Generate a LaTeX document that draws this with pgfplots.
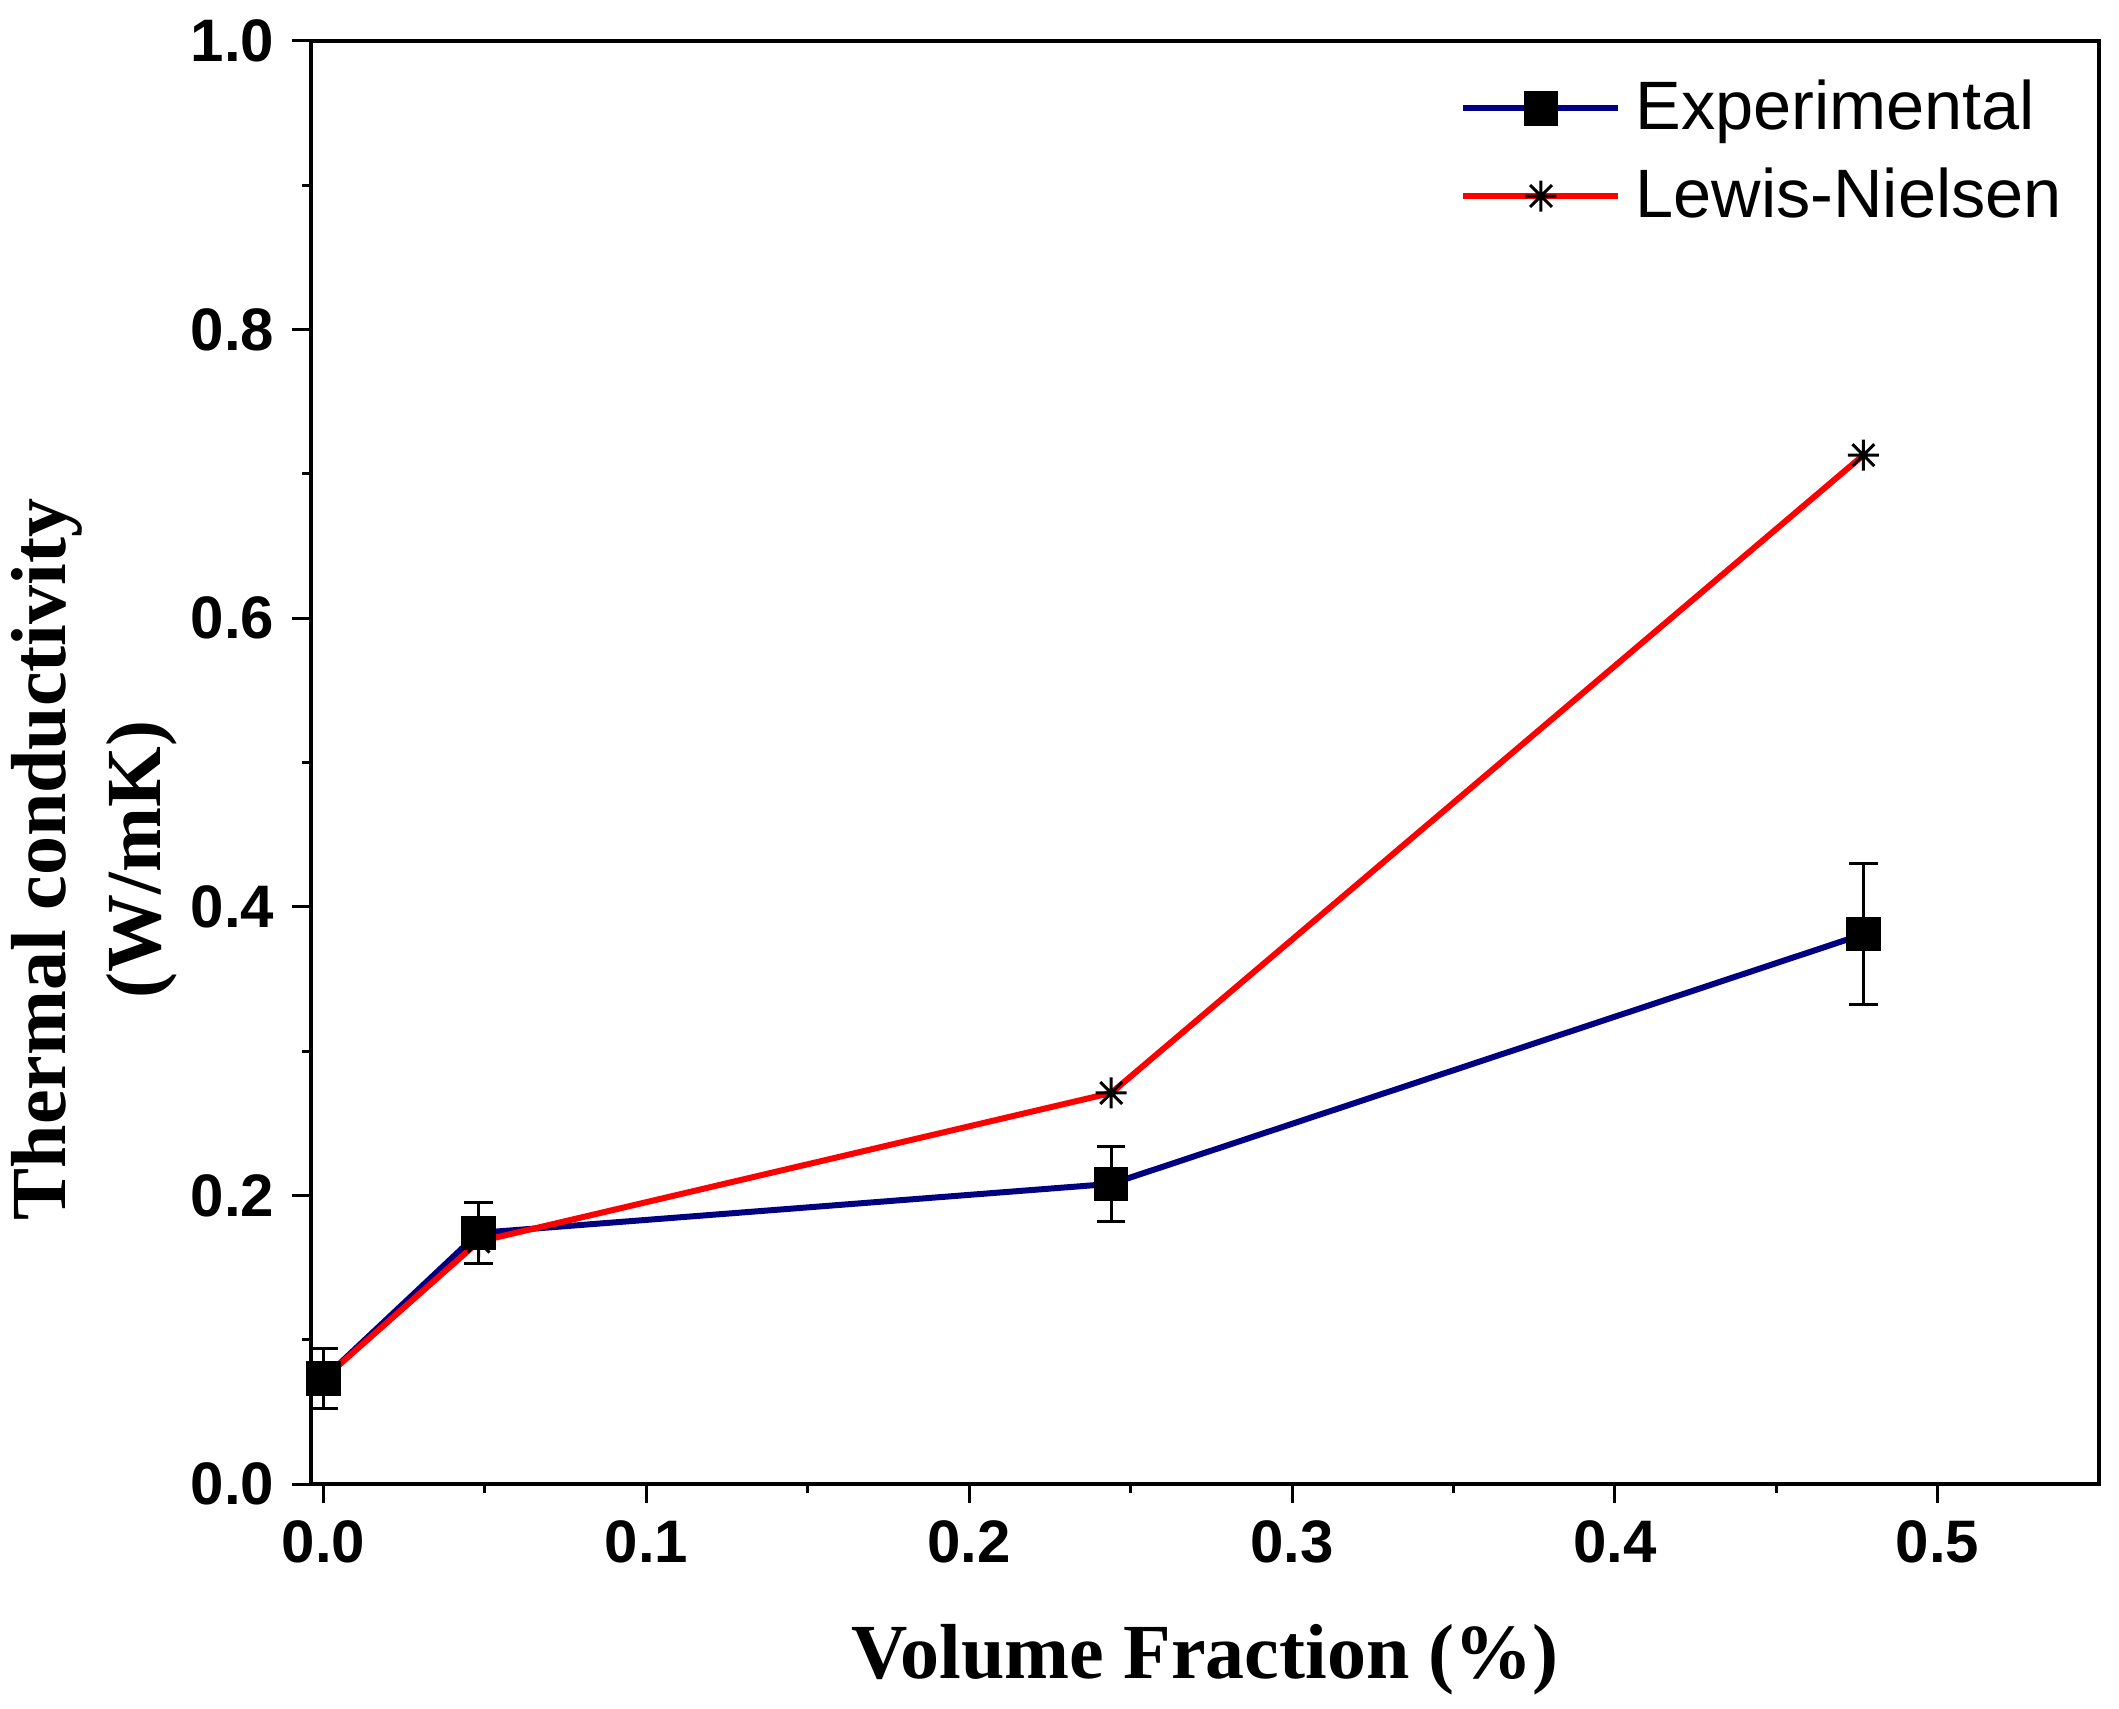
\documentclass[border=0pt]{standalone}
\usepackage{pgfplots}
\pgfplotsset{compat=1.18}
\usepackage{fontspec}
\setmainfont{Liberation Serif}
\newfontfamily\arial{Liberation Sans}
\definecolor{navyblue}{RGB}{0,0,128}
\pgfdeclareplotmark{star8}{%
  \pgfpathmoveto{\pgfqpoint{0pt}{\pgfplotmarksize}}%
  \pgfpathlineto{\pgfqpoint{0pt}{-\pgfplotmarksize}}%
  \pgfpathmoveto{\pgfqpoint{\pgfplotmarksize}{0pt}}%
  \pgfpathlineto{\pgfqpoint{-\pgfplotmarksize}{0pt}}%
  \pgfpathmoveto{\pgfqpoint{0.7071\pgfplotmarksize}{0.7071\pgfplotmarksize}}%
  \pgfpathlineto{\pgfqpoint{-0.7071\pgfplotmarksize}{-0.7071\pgfplotmarksize}}%
  \pgfpathmoveto{\pgfqpoint{-0.7071\pgfplotmarksize}{0.7071\pgfplotmarksize}}%
  \pgfpathlineto{\pgfqpoint{0.7071\pgfplotmarksize}{-0.7071\pgfplotmarksize}}%
  \pgfusepathqstroke
  \pgfpathcircle{\pgfpointorigin}{0.3\pgfplotmarksize}%
  \pgfusepathqfill
}
\begin{document}
\begin{tikzpicture}
\begin{axis}[
  name=ax,
  scale only axis,
  width=357.6pt, height=288.6pt,
  xmin=-0.0039, xmax=0.55, ymin=0, ymax=1,
  xtick={0,0.1,0.2,0.3,0.4,0.5},
  ytick={0,0.2,0.4,0.6,0.8,1.0},
  minor x tick num=1, minor y tick num=1,
  tick align=outside, tick pos=left,
  major tick length=3.8pt, minor tick length=1.8pt,
  every tick/.style={black, line width=0.6pt},
  axis line style={line width=0.8pt},
  tick label style={font=\arial\bfseries\fontsize{12}{14}\selectfont},
  /pgf/number format/fixed,
  /pgf/number format/fixed zerofill,
  /pgf/number format/precision=1,
  /pgf/number format/assume math mode=true,
  xlabel={Volume Fraction (\%)},
  ylabel={Thermal conductivity\\(W/mK)},
  xlabel style={font=\bfseries\fontsize{15.6}{19}\selectfont, at={(axis description cs:0.5,-0.122)}, anchor=center},
  ylabel style={font=\bfseries\fontsize{15.6}{19}\selectfont, align=center, at={(axis description cs:-0.121,0.4328)}, anchor=center},
  legend style={draw=none, fill=none, at={(rel axis cs:0.6423,0.9807)}, anchor=north west, inner sep=0pt,
    font=\arial\fontsize{13.7}{16}\selectfont, row sep=2.1pt, column sep=0.8pt},
  legend cell align=left,
  legend image code/.code={\draw[mark repeat=2,mark phase=2] plot coordinates {(0pt,0pt)(15.5pt,0pt)(31pt,0pt)};},
]
\addplot[color=navyblue, line width=1.2pt, mark=square*, mark size=2.85pt, mark options={black, solid},
  error bars/.cd, y dir=both, y explicit,
  error bar style={black, line width=0.6pt},
  error mark options={black, line width=0.6pt, mark size=2.85pt, rotate=90}]
  coordinates {
  (0.000,0.073) +- (0,0.021)
  (0.048,0.174) +- (0,0.021)
  (0.244,0.208) +- (0,0.026)
  (0.477,0.381) +- (0,0.049)
};
\addlegendentry{Experimental}
\addplot[color=red, line width=1.2pt, mark=star8, mark size=3.1pt, mark options={black, line width=0.6pt}]
  coordinates {
  (0.000,0.073)
  (0.048,0.168)
  (0.244,0.271)
  (0.477,0.713)
};
\addlegendentry{Lewis-Nielsen}
\end{axis}
\pgfresetboundingbox
\path[use as bounding box] ([shift={(-62.2pt,-44.8pt)}]ax.south west) rectangle ([shift={(4pt,8.2pt)}]ax.north east);
\end{tikzpicture}
\end{document}
